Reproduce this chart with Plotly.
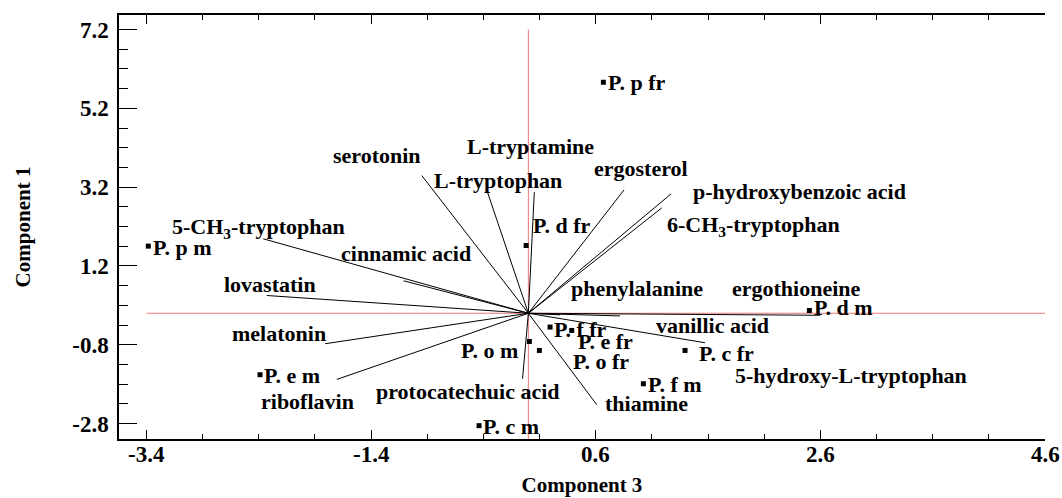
import plotly.graph_objects as go

# ---------------- data ----------------
SAMPLES = ["P. p fr", "P. p m", "P. d fr", "P. d m", "P. f fr", "P. e fr",
           "P. o m", "P. o fr", "P. c fr", "P. f m", "P. e m", "P. c m"]
SAMPLE_X = [0.668, -3.384, -0.020, 2.502, 0.193, 0.386,
            0.009, 0.098, 1.395, 1.024, -2.389, -0.439]
SAMPLE_Y = [5.862, 1.704, 1.719, 0.071, -0.350, -0.436,
            -0.715, -0.943, -0.943, -1.788, -1.559, -2.852]

VARIABLES = ["serotonin", "L-tryptophan", "L-tryptamine", "ergosterol",
             "p-hydroxybenzoic acid", "6-CH<sub>3</sub>-tryptophan",
             "5-CH<sub>3</sub>-tryptophan", "cinnamic acid", "lovastatin",
             "melatonin", "riboflavin", "protocatechuic acid", "thiamine",
             "vanillic acid", "phenylalanine", "ergothioneine",
             "5-hydroxy-L-tryptophan"]
LOAD_X = [-0.949, -0.365, 0.053, 0.852, 1.271, 1.188, -2.360, -1.111, -2.329,
          -1.810, -1.706, -0.052, 0.609, 1.573, 0.817, 2.598, 0.282]
LOAD_Y = [3.494, 3.081, 3.073, 3.131, 3.030, 2.675, 1.889, 0.824, 0.451,
          -0.773, -1.678, -1.661, -2.320, -0.748, -0.068, -0.051, -0.040]

X_TICKS = [-3.4, -1.4, 0.6, 2.6, 4.6]
X_TICK_LABELS = ["-3.4", "-1.4", "0.6", "2.6", "4.6"]
Y_TICKS = [-2.8, -0.8, 1.2, 3.2, 5.2, 7.2]
Y_TICK_LABELS = ["-2.8", "-0.8", "1.2", "3.2", "5.2", "7.2"]

# ---------------- label placement (pixel offsets) ----------------
SAMPLE_LABEL_STYLE = {
    "P. p fr": ("left", 3, 0), "P. p m": ("left", 3, -1),
    "P. d fr": ("left", 5, 20), "P. d m": ("left", 3, 3),
    "P. f fr": ("left", 2, -2), "P. e fr": ("left", 4, -11),
    "P. o m": ("right", -9, -9), "P. o fr": ("left", 32, -11),
    "P. c fr": ("left", 12, -3), "P. f m": ("left", 3, -1),
    "P. e m": ("left", 2, -1), "P. c m": ("left", 2, -1),
}
VAR_LABEL_SHIFT = {
    "serotonin": (-45, 20), "L-tryptophan": (11, 11), "L-tryptamine": (-4, 46),
    "ergosterol": (17, 21), "p-hydroxybenzoic acid": (128, 2),
    "6-CH<sub>3</sub>-tryptophan": (92, -18),
    "5-CH<sub>3</sub>-tryptophan": (-5, 11), "cinnamic acid": (2, 27),
    "lovastatin": (3, 11), "melatonin": (-46, 10), "riboflavin": (-29, -22),
    "protocatechuic acid": (-55, -13), "thiamine": (50, 1),
    "vanillic acid": (7, 17), "phenylalanine": (17, 27),
    "ergothioneine": (-24, 27), "5-hydroxy-L-tryptophan": (291, -61),
}

FONT = "Liberation Serif, Times New Roman, serif"
LBL_FONT = dict(family=FONT, size=22, color="black", weight="bold")

fig = go.Figure()

# loading vectors from origin
vx, vy = [], []
for lx, ly in zip(LOAD_X, LOAD_Y):
    vx += [0, lx, None]
    vy += [0, ly, None]
fig.add_trace(go.Scatter(x=vx, y=vy, mode="lines",
                         line=dict(color="black", width=1), hoverinfo="skip"))

# sample points
fig.add_trace(go.Scatter(x=SAMPLE_X, y=SAMPLE_Y, mode="markers", text=SAMPLES,
                         marker=dict(symbol="square", size=5, color="black")))

tickfont = dict(family=FONT, size=23, color="black", weight="bold")
titlefont = dict(family=FONT, size=21, color="black", weight="bold")

annotations = []
for name, x, y in zip(SAMPLES, SAMPLE_X, SAMPLE_Y):
    anc, dx, dy = SAMPLE_LABEL_STYLE[name]
    annotations.append(dict(x=x, y=y, text=name, showarrow=False,
                            xanchor=anc, yanchor="middle", xshift=dx, yshift=dy,
                            font=LBL_FONT))
for name, x, y in zip(VARIABLES, LOAD_X, LOAD_Y):
    dx, dy = VAR_LABEL_SHIFT[name]
    annotations.append(dict(x=x, y=y, text=name, showarrow=False,
                            xanchor="center", yanchor="middle", xshift=dx, yshift=dy,
                            font=LBL_FONT))
# x tick labels (placed close to the axis like the reference)
for tv, tt in zip(X_TICKS, X_TICK_LABELS):
    annotations.append(dict(x=tv, xref="x", y=0, yref="paper", text=tt,
                            showarrow=False, xanchor="center", yanchor="top",
                            yshift=-1, font=tickfont))

shapes = [
    dict(type="line", xref="x", yref="y", x0=0, x1=0, y0=Y_TICKS[-1], y1=-3.19,
         line=dict(color="rgb(240,120,120)", width=1), layer="below"),
    dict(type="line", xref="x", yref="y", x0=X_TICKS[0], x1=X_TICKS[-1], y0=0, y1=0,
         line=dict(color="rgb(240,120,120)", width=1), layer="below"),
]

fig.update_layout(
    width=1062, height=498,
    margin=dict(l=119, r=17, t=15, b=59, autoexpand=False),
    paper_bgcolor="white", plot_bgcolor="white",
    showlegend=False,
    annotations=annotations, shapes=shapes,
    xaxis=dict(range=[-3.645, 4.6], tickmode="array", tickvals=X_TICKS,
               ticktext=X_TICK_LABELS, showticklabels=False,
               ticks="inside", ticklen=9, tickwidth=1.2,
               tickcolor="black", showline=True, linecolor="black", linewidth=1.5,
               mirror="ticks", showgrid=False, zeroline=False, tickfont=tickfont,
               automargin=False,
               minor=dict(tickmode="linear", tick0=-3.4, dtick=0.5, ticks="inside",
                          ticklen=5, tickwidth=1.2, tickcolor="black", showgrid=False),
               title=dict(text="Component 3", font=titlefont, standoff=38)),
    yaxis=dict(range=[-3.19, 7.568], tickmode="array", tickvals=Y_TICKS,
               ticktext=Y_TICK_LABELS, ticks="inside", ticklen=18, tickwidth=1.2,
               tickcolor="black", showline=True, linecolor="black", linewidth=1.5,
               mirror=False, showgrid=False, zeroline=False, tickfont=tickfont,
               ticklabelstandoff=4, automargin=False,
               minor=dict(tickmode="linear", tick0=-2.8, dtick=0.5, ticks="inside",
                          ticklen=9, tickwidth=1.2, tickcolor="black", showgrid=False),
               title=dict(text="Component 1", font=titlefont, standoff=36)),
)

fig.write_html("out.html")
